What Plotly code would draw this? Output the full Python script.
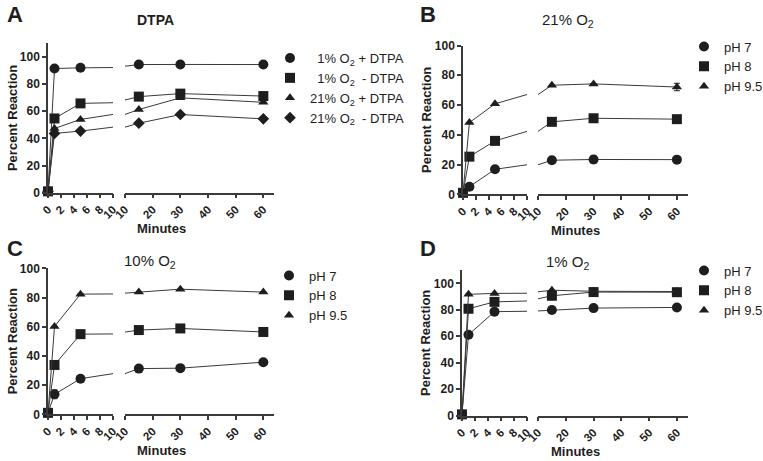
import plotly.graph_objects as go

W, H = 763, 461

# ---------------- data ----------------
minutes = [0, 1, 5, 15, 30, 60]

# Panel A (DTPA)
a_names = ["\u00a0\u00a01% O<sub>2</sub> + DTPA", "\u00a0\u00a01% O<sub>2</sub>\u00a0\u00a0- DTPA",
           "21% O<sub>2</sub> + DTPA", "21% O<sub>2</sub>\u00a0\u00a0- DTPA"]
a_o1_plus = [1, 91.5, 92, 94.4, 94.5, 94.4]
a_o1_minus = [1, 54.7, 65.8, 70.8, 73, 71.2]
a_o21_plus = [1, 47.3, 54, 61.3, 69.9, 66.6]
a_o21_minus = [1, 43.7, 45.4, 51.2, 57.6, 54.4]
a_err = [0, 0, 0, 0, 0, 0]

ph_names = ["pH 7", "pH 8", "pH 9.5"]
# Panel B (21% O2)
b_ph7 = [1, 5.1, 16.8, 22.9, 23.4, 23.3]
b_ph8 = [1, 25.3, 35.9, 48.7, 51.1, 50.5]
b_ph95 = [1, 48.2, 60.8, 73.3, 74.2, 72.1]
b_err7 = [0, 0, 0, 0, 2.5, 0]
b_err8 = [0, 0, 1.5, 0, 0, 0]
b_err95 = [0, 0, 0, 0, 0, 2.5]
# Panel C (10% O2)
c_ph7 = [1, 13.7, 24.4, 31.3, 31.6, 35.7]
c_ph8 = [1, 33.8, 54.9, 57.7, 58.8, 56.4]
c_ph95 = [1, 60.2, 82.3, 83.7, 85.7, 83.7]
c_err7 = [0, 3, 0, 0, 0, 0]
c_err8 = [0, 0, 0, 0, 0, 0]
c_err95 = [0, 0, 0, 0, 0, 0]
# Panel D (1% O2)
d_ph7 = [1, 61.2, 78.6, 79.9, 81.3, 81.8]
d_ph8 = [1, 80.8, 86.0, 90.6, 93.4, 93.3]
d_ph95 = [1, 91.7, 92.4, 94.8, 94.0, 93.8]
d_err7 = [0, 2, 0, 0, 0, 0]
d_err8 = [0, 0, 0, 0, 0, 0]
d_err95 = [0, 0, 0, 0, 0, 0]

seg1_ticks = [0, 2, 4, 6, 8, 10]
seg2_ticks = [10, 20, 30, 40, 50, 60]

FONT = "Liberation Sans, Arial, sans-serif"
INK = "#1e1e1e"
LINE = "#3a3a3a"

fig = go.Figure()

def xd(a, b):
    return [a / W, b / W]

def yd(top, bottom):
    return [1 - bottom / H, 1 - top / H]

# panel geometry (pixels)
panels = [
    dict(key="A", x1=(48, 113), x2=(125, 274.4), y=(43.4, 192.7), ymax=110,
         series=[a_o1_plus, a_o1_minus, a_o21_plus, a_o21_minus], errs=[a_err] * 4,
         names=a_names, symbols=["circle", "square", "triangle-up", "diamond"],
         sizes=[10, 10, 9, 9], legend=(270, 43)),
    dict(key="B", x1=(463, 527), x2=(538, 688), y=(45.5, 194.3), ymax=100,
         series=[b_ph7, b_ph8, b_ph95], errs=[b_err7, b_err8, b_err95],
         names=ph_names, symbols=["circle", "square", "triangle-up"],
         sizes=[10, 10, 9], legend=(684, 31.5)),
    dict(key="C", x1=(48, 113), x2=(125, 274.4), y=(268.3, 414.3), ymax=100,
         series=[c_ph7, c_ph8, c_ph95], errs=[c_err7, c_err8, c_err95],
         names=ph_names, symbols=["circle", "square", "triangle-up"],
         sizes=[10, 10, 9], legend=(269, 260.5)),
    dict(key="D", x1=(462, 527), x2=(538, 688), y=(270.1, 415.7), ymax=110,
         series=[d_ph7, d_ph8, d_ph95], errs=[d_err7, d_err8, d_err95],
         names=ph_names, symbols=["circle", "square", "triangle-up"],
         sizes=[10, 10, 9], legend=(684, 255.5)),
]

layout = dict(width=W, height=H, margin=dict(l=0, r=0, t=0, b=0, autoexpand=False),
              paper_bgcolor="white", plot_bgcolor="white", showlegend=True,
              font=dict(family=FONT, color=INK))

tickfont = dict(family=FONT, size=11.5, color=INK, weight="bold")
annotations = []

for i, p in enumerate(panels):
    xa1 = 2 * i + 1
    xa2 = 2 * i + 2
    ya = i + 1
    xn1 = "x" if xa1 == 1 else f"x{xa1}"
    xn2 = f"x{xa2}"
    yn = "y" if ya == 1 else f"y{ya}"
    common_x = dict(showgrid=False, zeroline=False, showline=True, linecolor=LINE, linewidth=1.5,
                    ticks="outside", ticklen=4, tickwidth=1.5, tickcolor=LINE, tickangle=-45,
                    tickfont=tickfont, anchor=yn)
    layout["xaxis" if xa1 == 1 else f"xaxis{xa1}"] = dict(
        common_x, domain=xd(*p["x1"]), range=[0, 10], tickvals=seg1_ticks)
    layout[f"xaxis{xa2}"] = dict(
        common_x, domain=xd(*p["x2"]), range=[10, 64], tickvals=seg2_ticks)
    layout["yaxis" if ya == 1 else f"yaxis{ya}"] = dict(
        domain=yd(*p["y"]), range=[0, p["ymax"]], anchor=xn1, showgrid=False, zeroline=False,
        showline=True, linecolor=LINE, linewidth=1.5, ticks="outside", ticklen=4, tickwidth=1.5,
        tickcolor=LINE, tickvals=[0, 20, 40, 60, 80, 100], tickfont=dict(tickfont, size=12))
    legname = "legend" if i == 0 else f"legend{i + 1}"
    layout[legname] = dict(x=p["legend"][0] / W, y=1 - p["legend"][1] / H, xanchor="left",
                           yanchor="top", bgcolor="rgba(0,0,0,0)", itemwidth=30,
                           font=dict(family=FONT, size=13, color=INK), itemclick=False)

    for s, (vals, err, name, sym, sz) in enumerate(zip(p["series"], p["errs"], p["names"],
                                                       p["symbols"], p["sizes"])):
        for seg, (xn, lo, hi) in enumerate([(xn1, 0, 10), (xn2, 10, 64)]):
            fig.add_trace(go.Scatter(x=minutes, y=vals, mode="lines", xaxis=xn, yaxis=yn,
                                     line=dict(color=LINE, width=1), showlegend=False,
                                     hoverinfo="skip"))
            idx = [k for k, t in enumerate(minutes) if lo <= t <= hi]
            fig.add_trace(go.Scatter(
                x=[minutes[k] for k in idx], y=[vals[k] for k in idx], mode="markers",
                xaxis=xn, yaxis=yn, cliponaxis=False, name=name, legend=legname,
                showlegend=(seg == 0),
                marker=dict(symbol=sym, size=sz, color=INK, line=dict(width=0)),
                error_y=dict(type="data", array=[err[k] for k in idx], color=INK,
                             thickness=1, width=3, visible=True)))

    # axis titles
    cx = (p["x1"][0] + p["x2"][1]) / 2
    annotations.append(dict(text="<b>Minutes</b>", x=cx / W, y=1 - (p["y"][1] + 36) / H,
                            xref="paper", yref="paper", showarrow=False, xanchor="center",
                            yanchor="middle", font=dict(family=FONT, size=13, color=INK)))
    cy = (p["y"][0] + p["y"][1]) / 2
    annotations.append(dict(text="<b>Percent Reaction</b>", x=(p["x1"][0] - 36) / W,
                            y=1 - cy / H, xref="paper", yref="paper", showarrow=False,
                            xanchor="center", yanchor="middle", textangle=-90,
                            font=dict(family=FONT, size=13, color=INK)))

# panel letters and titles
letters = [("A", 15, 15), ("B", 428, 15), ("C", 15, 249), ("D", 428, 249)]
for t, x, y in letters:
    annotations.append(dict(text=f"<b>{t}</b>", x=x / W, y=1 - y / H, xref="paper", yref="paper",
                            showarrow=False, xanchor="center", yanchor="middle",
                            font=dict(family=FONT, size=22, color=INK)))
titles = [("<b>DTPA</b>", 155, 20, 14), ("21% O<sub>2</sub>", 568, 21, 15),
          ("10% O<sub>2</sub>", 150, 261, 15), ("1% O<sub>2</sub>", 568, 262, 15)]
for t, x, y, s in titles:
    annotations.append(dict(text=t, x=x / W, y=1 - y / H, xref="paper", yref="paper",
                            showarrow=False, xanchor="center", yanchor="middle",
                            font=dict(family=FONT, size=s, color=INK)))

layout["annotations"] = annotations
fig.update_layout(**layout)
fig.write_html("out.html", config={"displayModeBar": False},
               post_script="document.body.style.margin='0';document.body.style.overflow='hidden';")
